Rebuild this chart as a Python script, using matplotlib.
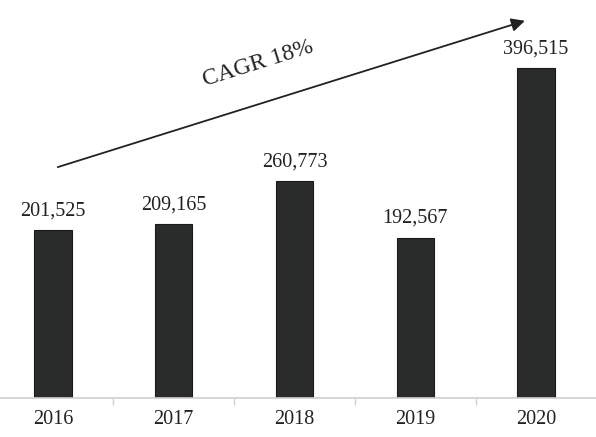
import matplotlib.pyplot as plt
import numpy as np

years = ['2016', '2017', '2018', '2019', '2020']
values = [201525, 209165, 260773, 192567, 396515]
labels = ['201,525', '209,165', '260,773', '192,567', '396,515']

plt.rcParams['font.family'] = ['Liberation Serif', 'DejaVu Serif']

fig = plt.figure(figsize=(5.96, 4.37), dpi=100)
ax = fig.add_axes([0, 1 - 398 / 437, 1, 398 / 437])
x = np.arange(len(years))
ax.bar(x, values, width=0.31, color='#2a2b2b', edgecolor='#1a1a1a', linewidth=0.8)

ax.set_xlim(-0.439, 4.497)
ax.set_ylim(0, 478200)

for i, v in enumerate(values):
    ax.annotate(labels[i], (x[i], v), xytext=(0, 7), textcoords='offset points',
                ha='center', va='bottom', fontsize=14.5, color='#222222')

for s in ['top', 'right', 'left']:
    ax.spines[s].set_visible(False)
ax.spines['bottom'].set_color('#d0d0d0')
ax.spines['bottom'].set_linewidth(1.2)
ax.set_yticks([])
ax.set_xticks(x)
ax.set_xticklabels(years, fontsize=14.5, color='#222222')
ax.tick_params(axis='x', which='major', length=0, pad=9)
ax.set_xticks(x[:-1] + 0.5, minor=True)
ax.tick_params(axis='x', which='minor', length=5, color='#d0d0d0', width=1)

# CAGR arrow
ax.annotate('', xy=(3.93, 454200), xytext=(0.017, 276400),
            arrowprops=dict(arrowstyle='-|>', color='#222222', lw=1.3, mutation_scale=20))
ax.text(1.70, 401300, 'CAGR 18%', rotation=17.4, ha='center', va='center',
        fontsize=17, color='#222222', rotation_mode='anchor')

fig.savefig('out.png', dpi=100)
